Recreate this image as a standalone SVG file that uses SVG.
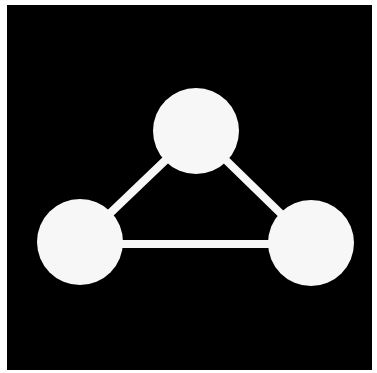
<svg xmlns="http://www.w3.org/2000/svg" width="377" height="373" viewBox="0 0 377 373">
<style>
.edge{stroke:#f7f7f7;stroke-width:8;stroke-linecap:round;fill:none}
.node{fill:#f7f7f7}
</style>
<rect x="0" y="0" width="377" height="373" fill="#ffffff"/>
<rect x="7" y="5" width="365" height="365" fill="#000000"/>
<g id="connectors">
<line class="edge" x1="80" y1="242" x2="196" y2="131"/>
<line class="edge" x1="196" y1="131" x2="311" y2="243"/>
<line class="edge" x1="80" y1="244" x2="311" y2="244"/>
</g>
<g id="node-top"><circle class="node" cx="196" cy="131" r="43"/></g>
<g id="node-left"><circle class="node" cx="80" cy="242" r="43"/></g>
<g id="node-right"><circle class="node" cx="311" cy="243" r="43"/></g>
</svg>
